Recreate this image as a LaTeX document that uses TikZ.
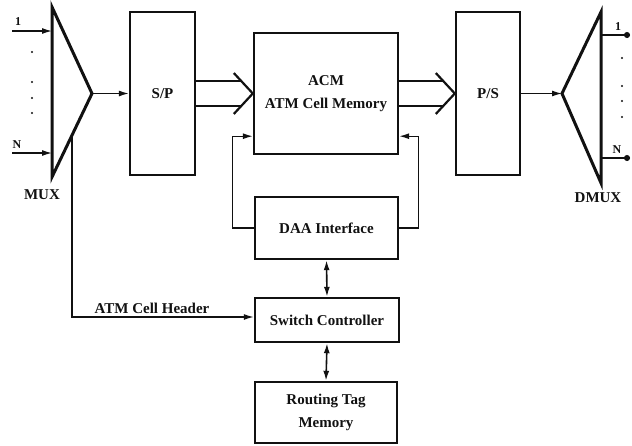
\documentclass[tikz,border=0pt]{standalone}
\usepackage{fontspec}
\setmainfont{Liberation Serif}
\usepackage{tikz}
\usetikzlibrary{arrows.meta,positioning,calc}
\definecolor{Ink}{HTML}{111111}
\tikzset{
  unitbox/.style={
    draw=Ink,
    line width=2.4pt,
    align=center,
    inner sep=0pt,
    font=\fontsize{15}{23}\selectfont\bfseries,
    text=Ink
  },
  sigarrow/.style={
    -{Latex[length=10pt,width=6pt]},
    line width=1.3pt,
    draw=Ink
  },
  dualarrow/.style={
    {Latex[length=10pt,width=6pt]}-{Latex[length=10pt,width=6pt]},
    line width=1.6pt,
    draw=Ink
  },
  busline/.style={
    line width=2.2pt,
    draw=Ink
  },
  muxline/.style={
    line width=3pt,
    draw=Ink,
    line join=miter
  },
  outline/.style={
    -{Circle[length=6pt]},
    line width=1.4pt,
    draw=Ink
  },
  tag/.style={
    font=\fontsize{15}{18}\selectfont\bfseries,
    text=Ink,
    inner sep=1pt
  },
  pin/.style={
    font=\fontsize{12}{13}\selectfont\bfseries,
    text=Ink,
    inner sep=0pt
  }
}
\begin{document}
\begin{tikzpicture}[x=1pt,y=-1pt]
\useasboundingbox (0,0) rectangle (632,445);
% main blocks
\node[unitbox, minimum width=65pt, minimum height=163pt] (sp) at (162.5,93.5) {S/P};
\node[unitbox, minimum width=144pt, minimum height=121pt] (acm) at (326,93.5) {ACM\\ATM Cell Memory};
\node[unitbox, minimum width=64pt, minimum height=163pt] (ps) at (488,93.5) {P/S};
\node[unitbox, minimum width=143pt, minimum height=62pt] (daa) at (326.5,228) {DAA Interface};
\node[unitbox, minimum width=144pt, minimum height=44pt] (sc) at (327,320) {Switch Controller};
\node[unitbox, minimum width=142pt, minimum height=61pt] (rtm) at (326,412.5) {Routing Tag\\Memory};
% mux and demux
\coordinate (mtop) at (52,7);
\coordinate (mapex) at (92,93.5);
\coordinate (mbot) at (52,177);
\coordinate (tap) at (72,135);
\draw[muxline] (mtop) -- (mapex) -- (mbot) -- cycle;
\coordinate (dtop) at (601,12);
\coordinate (dapex) at (562,93.5);
\coordinate (dbot) at (601,183);
\draw[muxline] (dtop) -- (dapex) -- (dbot) -- cycle;
\node[tag] (muxlabel) at (42,195) {MUX};
\node[tag] (dmuxlabel) at (598,198) {DMUX};
% inputs and outputs
\coordinate (in1) at (12,31);
\coordinate (inN) at (12,153);
\draw[sigarrow] (in1) -- (in1 -| mtop);
\draw[sigarrow] (inN) -- (inN -| mtop);
\node[pin] (lbl1) at (18,22) {1};
\node[pin] (lblN) at (17,145) {N};
\foreach \y in {52,82,98,113}
  \fill[Ink] (32,\y) circle (1.1pt);
\coordinate (out1) at (630,35);
\coordinate (outN) at (630,158);
\draw[outline] (out1 -| dtop) -- (out1);
\draw[outline] (outN -| dtop) -- (outN);
\node[pin] (dlbl1) at (618,27) {1};
\node[pin] (dlblN) at (617,150) {N};
\foreach \y in {58,86,101,117}
  \fill[Ink] (622,\y) circle (1.1pt);
% data path
\draw[sigarrow] (mapex) -- (sp.west);
\draw[sigarrow] (ps.east) -- (dapex);
\foreach \a/\b in {sp/acm, acm/ps} {
  \draw[busline] ([yshift=12.5pt]\a.east) -- ([shift={(-11pt,12.5pt)}]\b.west);
  \draw[busline] ([yshift=-12.5pt]\a.east) -- ([shift={(-11pt,-12.5pt)}]\b.west);
  \draw[busline] ([shift={(-19pt,20.5pt)}]\b.west) -- (\b.west) -- ([shift={(-19pt,-20.5pt)}]\b.west);
}
% control path
\draw[sigarrow] (daa.west) -- ++(-21,0) |- ([yshift=19pt]acm.south west);
\draw[sigarrow] (daa.east) -- ++(19,0) |- ([yshift=19pt]acm.south east);
\draw[dualarrow] (daa.south) -- (sc.north);
\draw[dualarrow] (sc.south) -- (rtm.north);
\draw[sigarrow] (tap) |- ([yshift=3pt]sc.west) node[tag, pos=0.72, above=2pt] {ATM Cell Header};
\end{tikzpicture}
\end{document}
